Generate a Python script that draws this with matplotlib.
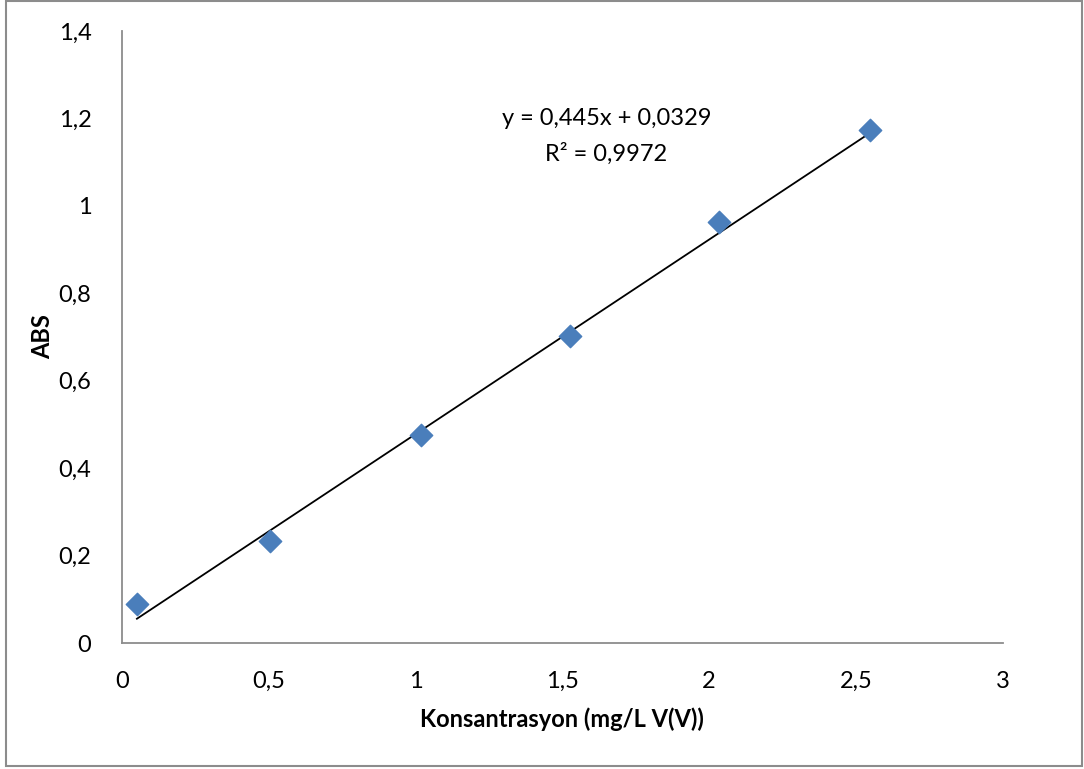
import matplotlib.pyplot as plt
import numpy as np
from matplotlib.patches import Rectangle
from matplotlib.ticker import FuncFormatter

plt.rcParams['font.family'] = ['Lato', 'DejaVu Sans']

# Kalibrasyon verileri
konsantrasyon = [0.051, 0.505, 1.019, 1.527, 2.035, 2.547]
abs_degerleri = [0.089, 0.234, 0.477, 0.703, 0.962, 1.173]

# Trend çizgisi katsayıları
egim = 0.445
kesisim = 0.0329
r_kare = 0.9972

fig = plt.figure(figsize=(10.84, 7.69), dpi=100)
ax = fig.add_axes([0.1125, 0.1638, 0.8125, 0.7959])

# Dış çerçeve
fig.patches.append(Rectangle((6 / 1084, 3 / 769), 1076 / 1084, 765 / 769,
                             transform=fig.transFigure, fill=False,
                             edgecolor='#8c8c8c', linewidth=1.5))

x_fit = np.array([konsantrasyon[0], konsantrasyon[-1]])
ax.plot(x_fit, egim * x_fit + kesisim, color='black', linewidth=1.3, zorder=2)
ax.scatter(konsantrasyon, abs_degerleri, marker='D', s=130, color='#4a7ebb',
           edgecolors='#4a7ebb', zorder=3)

ax.set_xlim(0, 3)
ax.set_ylim(0, 1.4)
ax.set_xticks([0, 0.5, 1, 1.5, 2, 2.5, 3])
ax.set_yticks([0, 0.2, 0.4, 0.6, 0.8, 1, 1.2, 1.4])
virgul = FuncFormatter(lambda v, p: ('%g' % v).replace('.', ','))
ax.xaxis.set_major_formatter(virgul)
ax.yaxis.set_major_formatter(virgul)
ax.tick_params(length=0, labelsize=17, pad=20)
ax.tick_params(axis='y', pad=22)

for s in ['top', 'right']:
    ax.spines[s].set_visible(False)
for s in ['left', 'bottom']:
    ax.spines[s].set_color('#8c8c8c')
    ax.spines[s].set_linewidth(1.3)

ax.set_xlabel('Konsantrasyon (mg/L V(V))', fontsize=17, fontweight='bold', labelpad=11)
ax.set_ylabel('ABS', fontsize=17, fontweight='bold')
ax.yaxis.set_label_coords(-0.077, 0.5)

ax.text(1.65, 1.20, 'y = 0,445x + 0,0329', fontsize=17, ha='center', va='center')
ax.text(1.65, 1.12, 'R² = 0,9972', fontsize=17, ha='center', va='center')

fig.savefig('out.png', dpi=100)
